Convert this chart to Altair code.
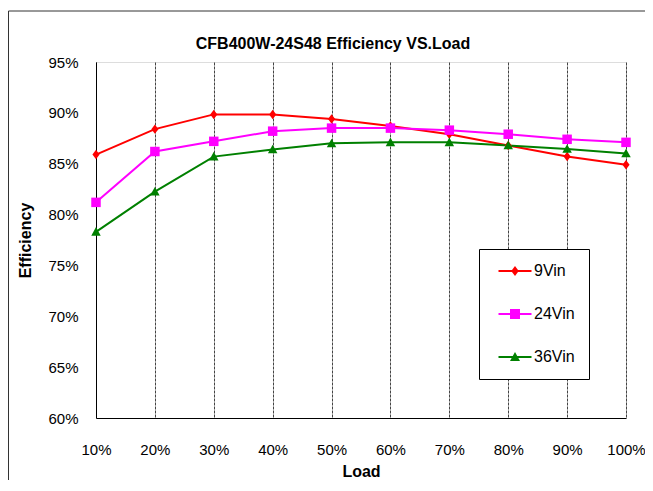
import altair as alt
import pandas as pd

loads = [10, 20, 30, 40, 50, 60, 70, 80, 90, 100]
series_names = ["9Vin", "24Vin", "36Vin"]
eff_9vin = [85.9, 88.4, 89.85, 89.85, 89.4, 88.7, 87.9, 86.8, 85.7, 84.9]
eff_24vin = [81.2, 86.2, 87.2, 88.2, 88.5, 88.5, 88.3, 87.9, 87.4, 87.1]
eff_36vin = [78.3, 82.25, 85.7, 86.4, 87.0, 87.1, 87.1, 86.8, 86.45, 86.0]
y_ticks = [60, 65, 70, 75, 80, 85, 90, 95]
colors = ["#FF0000", "#FF00FF", "#008000"]

rows = []
for name, vals in zip(series_names, [eff_9vin, eff_24vin, eff_36vin]):
    for l, v in zip(loads, vals):
        rows.append({"load": l, "eff": v, "series": name})
df = pd.DataFrame(rows)

FONT = "Liberation Sans"

# marker shapes (plot) and legend symbols (line + marker)
diamond = "M0,-1L0.75,0L0,1L-0.75,0Z"
square = "M-1,-1H1V1H-1Z"
triangle = "M0,-1L1,0.8H-1Z"
bar = "M-3.3,-0.22H3.3V0.22H-3.3Z "
plot_shapes = [diamond, square, triangle]
legend_shapes = [bar + diamond, bar + square, bar + triangle]

x_enc = alt.X("load:Q", scale=alt.Scale(domain=[10, 100], nice=False, zero=False),
              axis=alt.Axis(values=loads, labelExpr="datum.value + '%'", title="Load",
                            grid=True, gridColor="#444", gridDash=[3, 1], gridWidth=1,
                            ticks=False, domainColor="black", labelPadding=24, labelFlush=False,
                            titlePadding=6, labelFont=FONT, labelFontSize=15,
                            labelColor="black", titleFont=FONT, titleFontSize=16,
                            titleFontWeight="bold", titleColor="black"))
y_enc = alt.Y("eff:Q", scale=alt.Scale(domain=[60, 95], nice=False, zero=False),
              axis=alt.Axis(values=y_ticks, labelExpr="datum.value + '%'", title="Efficiency",
                            grid=False, ticks=False, domainColor="black", labelPadding=18,
                            labelFlush=False,
                            titlePadding=14, labelFont=FONT, labelFontSize=15,
                            labelColor="black", titleFont=FONT, titleFontSize=16,
                            titleFontWeight="bold", titleColor="black"))

cscale = alt.Scale(domain=series_names, range=colors)

lines = alt.Chart(df).mark_line(strokeWidth=2).encode(
    x=x_enc, y=y_enc,
    color=alt.Color("series:N", scale=cscale, legend=None),
    order="load:Q",
)

points = alt.Chart(df).mark_point(filled=True, size=90, opacity=1).encode(
    x="load:Q", y="eff:Q",
    color=alt.Color("series:N", scale=cscale, legend=None),
    shape=alt.Shape("series:N", scale=alt.Scale(domain=series_names, range=plot_shapes), legend=None),
)

legend_layer = alt.Chart(df).transform_filter("false").mark_point(filled=True, size=64, opacity=1).encode(
    x="load:Q", y="eff:Q",
    color=alt.Color("series:N", scale=cscale, title=None,
                    legend=alt.Legend(orient="none", legendX=383, legendY=187,
                                      fillColor="white", strokeColor="black", padding=14,
                                      rowPadding=27, symbolOffset=14, labelOffset=11,
                                      labelFont=FONT, labelFontSize=16, labelColor="black",
                                      symbolStrokeWidth=0, cornerRadius=0)),
    shape=alt.Shape("series:N", scale=alt.Scale(domain=series_names, range=legend_shapes), title=None),
)

border = alt.Chart(alt.Data(values=[{}])).mark_rule(color="#333", strokeWidth=1).encode(
    x=alt.value(-87.5), y=alt.value(-51), y2=alt.value(420)
)
border_top = alt.Chart(alt.Data(values=[{}])).mark_rule(color="#333", strokeWidth=1).encode(
    x=alt.value(-87.5), x2=alt.value(549), y=alt.value(-51)
)

chart = alt.layer(lines, points, legend_layer, border, border_top).resolve_scale(
    color="independent", shape="independent"
).properties(
    width=530, height=356,
    title=alt.TitleParams("CFB400W-24S48 Efficiency VS.Load", font=FONT, fontSize=16,
                          fontWeight="bold", color="black", anchor="middle", dx=-28, offset=-41),
    padding={"left": 88, "top": 54, "right": 19, "bottom": 62},
    autosize=alt.AutoSizeParams(type="none"),
).configure_view(stroke="black", strokeWidth=1).configure(background="white")

chart.save("out.html", embed_options={"renderer": "svg", "actions": False})
